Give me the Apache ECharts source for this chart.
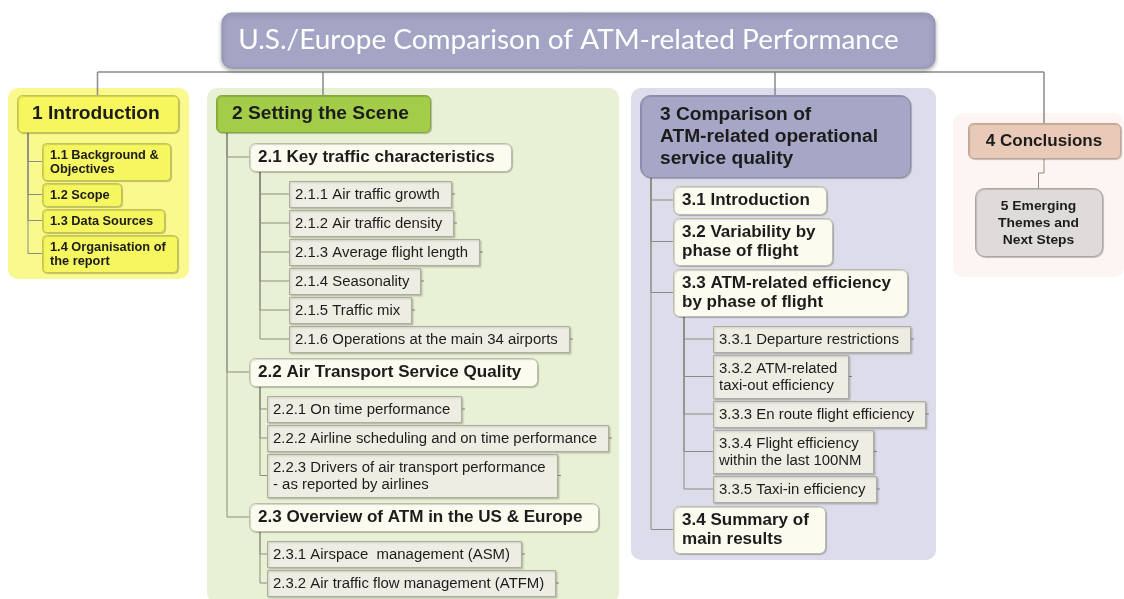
<!DOCTYPE html>
<html>
<head>
<meta charset="UTF-8">
<title>U.S./Europe Comparison of ATM-related Performance</title>
<style>
    html, body { margin: 0; padding: 0; background: #fff; }
    #main { width: 1124px; height: 599px; }
</style>
</head>
<body>
<div id="main"></div>
<script src="https://cdn.jsdelivr.net/npm/echarts@6/dist/echarts.min.js"></script>
<script>
    // texts of the outline
    var rootTitle = 'U.S./Europe Comparison of ATM-related Performance';
    var chapterTitles = ['1 Introduction', '2 Setting the Scene',
        '3 Comparison of\nATM-related operational\nservice quality', '4 Conclusions'];
    var introSections = ['1.1 Background &\nObjectives', '1.2 Scope', '1.3 Data Sources', '1.4 Organisation of\nthe report'];
    var sceneSections = ['2.1 Key traffic characteristics', '2.2 Air Transport Service Quality',
        '2.3 Overview of ATM in the US & Europe'];
    var trafficItems = ['2.1.1 Air traffic growth', '2.1.2 Air traffic density', '2.1.3 Average flight length',
        '2.1.4 Seasonality', '2.1.5 Traffic mix', '2.1.6 Operations at the main 34 airports'];
    var serviceItems = ['2.2.1 On time performance', '2.2.2 Airline scheduling and on time performance',
        '2.2.3 Drivers of air transport performance\n- as reported by airlines'];
    var atmItems = ['2.3.1 Airspace  management (ASM)', '2.3.2 Air traffic flow management (ATFM)'];
    var comparisonSections = ['3.1 Introduction', '3.2 Variability by\nphase of flight',
        '3.3 ATM-related efficiency\nby phase of flight', '3.4 Summary of\nmain results'];
    var efficiencyItems = ['3.3.1 Departure restrictions', '3.3.2 ATM-related\ntaxi-out efficiency',
        '3.3.3 En route flight efficiency', '3.3.4 Flight efficiency\nwithin the last 100NM', '3.3.5 Taxi-in efficiency'];
    var outlookSections = ['5 Emerging\nThemes and\nNext Steps'];

    function leaves(list, kind) {
        return list.map(function (t) { return { label: t, kind: kind, children: [] }; });
    }

    var tree = [
        { label: chapterTitles[0], kind: 'ch1', children: leaves(introSections, 'sec1') },
        { label: chapterTitles[1], kind: 'ch2', children: [
            { label: sceneSections[0], kind: 'sec', children: leaves(trafficItems, 'item') },
            { label: sceneSections[1], kind: 'sec', children: leaves(serviceItems, 'item') },
            { label: sceneSections[2], kind: 'sec', children: leaves(atmItems, 'item') }
        ] },
        { label: chapterTitles[2], kind: 'ch3', children: [
            { label: comparisonSections[0], kind: 'sec', children: [] },
            { label: comparisonSections[1], kind: 'sec', children: [] },
            { label: comparisonSections[2], kind: 'sec', children: leaves(efficiencyItems, 'item') },
            { label: comparisonSections[3], kind: 'sec', children: [] }
        ] },
        { label: chapterTitles[3], kind: 'ch4', children: leaves(outlookSections, 'next') }
    ];

    var FONT = '"Liberation Sans", Arial, sans-serif';
    var STRETCH = 1.065; // the reference text is slightly wide
    var kinds = {
        ch1:  { size: 18, weight: 'bold', lh: 20, padV: 8.5, padL: 15, padR: 18, r: 5, fill: '#f6f65e', stroke: '#c2c24c' },
        ch2:  { size: 18, weight: 'bold', lh: 20, padV: 8.5, padL: 16, padR: 21, r: 5, fill: '#a3cd48', stroke: '#84a838' },
        ch3:  { size: 18, weight: 'bold', lh: 22, padV: 8, padL: 20, padR: 32, r: 10, fill: '#a6a6c6', stroke: '#8b8bab' },
        ch4:  { size: 16, weight: 'bold', lh: 20, padV: 7.5, padL: 18, padR: 18, r: 5, fill: '#e9cab8', stroke: '#c4a593', center: true },
        next: { size: 13, weight: 'bold', lh: 17, padV: 8.5, padL: 23, padR: 23, r: 9, fill: '#dfdbda', stroke: '#aaa5a4', center: true },
        sec1: { size: 12, weight: 'bold', lh: 14, padV: 4.5, padL: 8, padR: 11, r: 4, fill: '#f6f660', stroke: '#c4c44e' },
        sec:  { size: 16, weight: 'bold', lh: 19, padV: 4.5, padL: 9, padR: 16, r: 6, fill: '#fbfbef', stroke: '#bdbdab' },
        item: { size: 14, weight: 'normal', lh: 17, padV: 4.5, padL: 6, padR: 11, r: 0, fill: '#eeede3', stroke: '#aeae9f', shadow: 2 }
    };

    var columns = [
        { x: 17,  y: 95,  indent: 25, gap: 3, firstGap: 11, panel: '#f9f98e' },
        { x: 216, y: 95,  indent: 33, gap: 3, firstGap: 11, itemIndent: [40, 18, 18], itemGap: 10, itemSib: 3, groupGap: 6, panel: '#e8f1d3' },
        { x: 640, y: 95,  indent: 33, gap: 4, firstGap: 9, itemIndent: [0, 0, 40, 0], itemGap: 10, itemSib: 3, groupGap: 4, panel: '#dcdcea' },
        { x: 968, y: 123, indent: 7,  gap: 0, firstGap: 30, panel: '#fcf5f1' }
    ];

    var canvas = document.createElement('canvas');
    var ctx = canvas.getContext('2d');
    function textWidth(k, line) {
        ctx.font = k.weight + ' ' + k.size + 'px ' + FONT;
        return ctx.measureText(line).width * STRETCH;
    }

    var nodes = [];
    function place(node, x, y) {
        var k = kinds[node.kind];
        var lines = node.label.split('\n');
        node.w = Math.round(Math.max.apply(null, lines.map(function (l) { return textWidth(k, l); })) + k.padL + k.padR);
        node.h = lines.length * k.lh + k.padV * 2;
        node.x = x;
        node.y = y;
        nodes.push(node);
    }

    tree.forEach(function (ch, ci) {
        var col = columns[ci];
        place(ch, col.x, col.y);
        var y = ch.y + ch.h + col.firstGap;
        ch.children.forEach(function (sec, si) {
            place(sec, ch.x + col.indent, y);
            y = sec.y + sec.h + col.gap;
            if (sec.children.length) {
                y = sec.y + sec.h + col.itemGap;
                sec.children.forEach(function (it) {
                    place(it, sec.x + col.itemIndent[si], y);
                    y = it.y + it.h + col.itemSib;
                });
                y = y - col.itemSib + col.groupGap;
            }
        });
    });

    // connectors
    var links = [];
    function mid(n) { return n.y + n.h / 2; }
    tree.forEach(function (ch) {
        var k = kinds[ch.kind];
        if (k.center) {
            ch.children.forEach(function (c) {
                var cx = ch.x + ch.w / 2, my = (ch.y + ch.h + c.y) / 2;
                links.push([[cx, ch.y + ch.h], [cx, my], [c.x + c.w / 2, my], [c.x + c.w / 2, c.y]]);
            });
            return;
        }
        [ch].concat(ch.children).forEach(function (p) {
            var lx = p.x + 11;
            p.children.forEach(function (c) {
                links.push([[lx, p.y + p.h], [lx, mid(c)], [c.x, mid(c)]]);
                if (c.kind === 'item') {
                    links.push([[c.x + c.w, mid(c)], [c.x + c.w + 4, mid(c)]]);
                }
            });
        });
    });

    var titleBox = { x: 222, y: 13, w: 713, h: 55 };
    var busY = 72;
    var topLinks = [[[tree[0].x + tree[0].w / 2, busY], [tree[3].x + tree[3].w / 2, busY]]];
    tree.forEach(function (ch) {
        topLinks.push([[ch.x + ch.w / 2, busY], [ch.x + ch.w / 2, ch.y]]);
    });

    // panels around each column
    var panels = tree.map(function (ch, ci) {
        var all = [ch];
        ch.children.forEach(function (s) { all.push(s); all = all.concat(s.children); });
        var x0 = Math.min.apply(null, all.map(function (n) { return n.x; })) - (ci === 3 ? 15 : 9);
        var x1 = Math.max.apply(null, all.map(function (n) { return n.x + n.w; })) + 11;
        var y0 = ch.y - 7 - (ci === 3 ? 3 : 0);
        var y1 = Math.max.apply(null, all.map(function (n) { return n.y + n.h; })) + (ci === 3 ? 21 : 7);
        return [x0, y0, Math.min(x1, 1124) - x0, y1 - y0, ci];
    });

    function rectOf(api) {
        var p0 = api.coord([api.value(0), api.value(1)]);
        var p1 = api.coord([api.value(0) + api.value(2), api.value(1) + api.value(3)]);
        return { x: p0[0], y: p0[1], width: p1[0] - p0[0], height: p1[1] - p0[1] };
    }

    var myChart = echarts.init(document.getElementById('main'));
    var option = {
        animation: false,
        grid: { left: 0, right: 0, top: 0, bottom: 0 },
        xAxis: { type: 'value', min: 0, max: 1124, show: false },
        yAxis: { type: 'value', min: 0, max: 599, inverse: true, show: false },
        series: [
            {
                type: 'custom',
                name: 'panels',
                z: 1,
                data: panels,
                renderItem: function (params, api) {
                    var r = rectOf(api);
                    return {
                        type: 'rect',
                        shape: { x: r.x, y: r.y, width: r.width, height: r.height, r: 10 },
                        style: { fill: columns[api.value(4)].panel }
                    };
                }
            },
            {
                type: 'custom',
                name: 'title',
                z: 3,
                data: [[titleBox.x, titleBox.y, titleBox.w, titleBox.h]],
                renderItem: function (params, api) {
                    var r = rectOf(api);
                    return {
                        type: 'group',
                        children: [
                            {
                                type: 'rect',
                                shape: { x: r.x, y: r.y, width: r.width, height: r.height, r: 10 },
                                style: { fill: '#a4a4c4', stroke: '#9292b4', shadowBlur: 4, shadowOffsetY: 2, shadowColor: 'rgba(0,0,0,0.35)' }
                            },
                            {
                                type: 'text',
                                x: r.x + r.width / 2 - 10,
                                y: r.y + r.height / 2,
                                scaleX: 1.035,
                                style: {
                                    text: rootTitle, fill: '#ffffff', fontFamily: 'Lato, "Open Sans", sans-serif',
                                    fontSize: 27, align: 'center', verticalAlign: 'middle'
                                }
                            }
                        ]
                    };
                }
            },
            {
                type: 'lines',
                name: 'bus',
                coordinateSystem: 'cartesian2d',
                polyline: true,
                z: 2,
                data: topLinks.map(function (c) { return { coords: c }; }),
                lineStyle: { color: '#8a8a8a', width: 1.5, opacity: 1 }
            },
            {
                type: 'lines',
                name: 'connectors',
                coordinateSystem: 'cartesian2d',
                polyline: true,
                z: 2,
                data: links.map(function (c) { return { coords: c }; }),
                lineStyle: { color: '#8c8c84', width: 1, opacity: 1 }
            },
            {
                type: 'custom',
                name: 'topics',
                z: 4,
                data: nodes.map(function (n) { return [n.x, n.y, n.w, n.h]; }),
                renderItem: function (params, api) {
                    var n = nodes[params.dataIndex];
                    var k = kinds[n.kind];
                    var r = rectOf(api);
                    return {
                        type: 'group',
                        children: [
                            {
                                type: 'rect',
                                shape: { x: r.x + 0.5, y: r.y + 0.5, width: r.width, height: r.height, r: k.r },
                                style: {
                                    fill: k.fill, stroke: k.stroke, lineWidth: 1,
                                    shadowBlur: k.shadow || 1, shadowOffsetX: 1, shadowOffsetY: 1,
                                    shadowColor: 'rgba(0,0,0,0.18)'
                                }
                            },
                            {
                                type: 'text',
                                x: k.center ? r.x + r.width / 2 : r.x + k.padL,
                                y: r.y + r.height / 2 + 1,
                                scaleX: STRETCH,
                                style: {
                                    text: n.label, fill: '#1c1c1c', fontFamily: FONT,
                                    fontSize: k.size, fontWeight: k.weight, lineHeight: k.lh,
                                    align: k.center ? 'center' : 'left', verticalAlign: 'middle'
                                }
                            }
                        ]
                    };
                }
            }
        ]
    };
    myChart.setOption(option);
</script>
</body>
</html>
